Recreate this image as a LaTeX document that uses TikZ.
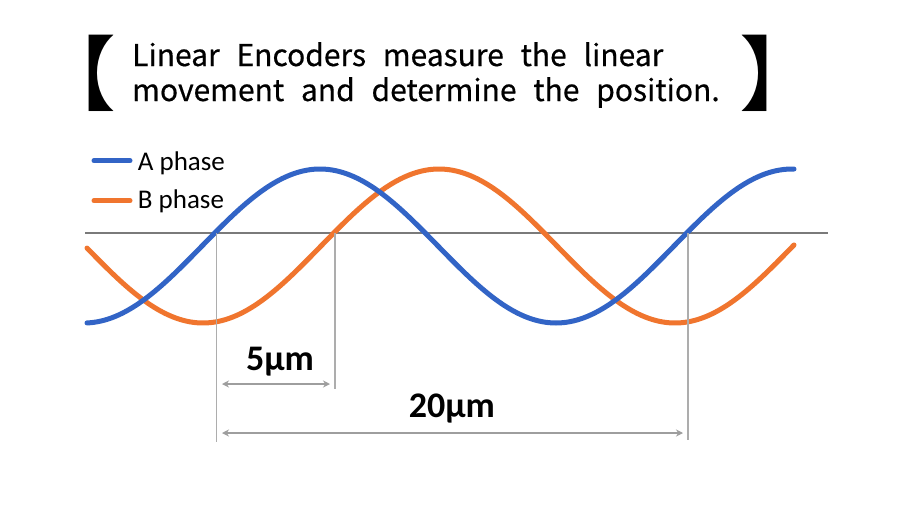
\documentclass[tikz,border=0pt]{standalone}
\usepackage{fontspec}
\setmainfont{Carlito}
\newfontfamily\jpfont{Noto Sans CJK JP}
\newfontfamily\jptitle[WordSpace=2.5, FakeBold=0.5]{Noto Sans CJK JP}
\usetikzlibrary{arrows.meta, positioning}

\definecolor{phaseA}{RGB}{50,100,198}
\definecolor{phaseB}{RGB}{240,117,46}

\begin{document}
\begin{tikzpicture}[x=1pt, y=-1pt,
    wave/.style={line width=5pt, line cap=round},
    dimline/.style={draw=black!32, line width=1.5pt},
    dimarrow/.style={draw=black!38, line width=2pt, {Stealth[length=7pt,width=7pt]}-{Stealth[length=7pt,width=7pt]}},
    bracket/.style={font=\jpfont\fontsize{82}{82}\selectfont, inner sep=0pt},
    titletext/.style={font=\jptitle\fontsize{30}{35}\selectfont, inner sep=0pt, anchor=base west},
    legtext/.style={font=\fontsize{27}{30}\selectfont, inner sep=0pt},
    dimtext/.style={font=\bfseries\fontsize{36}{40}\selectfont, inner sep=0pt}]
    \fill[white] (0,0) rectangle (902,522);
    \useasboundingbox (0,0) rectangle (902,522);

    % title
    \node[bracket] (lbr) at (75.3,73) {【};
    \node[bracket] (rbr) at (780.3,73) {】};
    \node[titletext] (title1) at (132,66) {Linear Encoders measure the linear};
    \node[titletext] (title2) at (132,101) {movement and determine the position.};

    % legend
    \coordinate (legA) at (94,160.7);
    \coordinate (legA') at (130,160.7);
    \coordinate (legB) at (94,200.7);
    \coordinate (legB') at (130,200.7);
    \draw[wave, phaseA] (legA) -- (legA');
    \draw[wave, phaseB] (legB) -- (legB');
    \node[legtext, anchor=base west] (txtA) at (137.7,170) {A phase};
    \node[legtext, anchor=base west] (txtB) at (137.7,208) {B phase};

    % axis
    \coordinate (axl) at (85,233);
    \coordinate (axr) at (828,233);
    \draw[black!52, line width=1.5pt] (axl) -- (axr);

    % waves (period 472px)
    \draw[wave, phaseB] plot[domain=87:794, samples=200] (\x, {246-77*sin(0.76271*(\x-321))});
    \draw[wave, phaseA] plot[domain=87:794, samples=200] (\x, {246-77*sin(0.76271*(\x-202))});

    % zero crossings and dimensions
    \coordinate (zA1) at (216.7,233);
    \coordinate (zB1) at (335,233);
    \coordinate (zA2) at (688,233);
    \draw[dimline] (zA1) -- (zA1 |- 0,442);
    \draw[dimline] (zB1) -- (zB1 |- 0,389);
    \draw[dimline] (zA2) -- (zA2 |- 0,440);

    \coordinate (d5l) at (222,384);
    \coordinate (d5r) at (330,384);
    \coordinate (d20l) at (222,433);
    \coordinate (d20r) at (683,433);
    \draw[dimarrow] (d5l) -- (d5r);
    \draw[dimarrow] (d20l) -- (d20r);
    \node[dimtext, anchor=base] (lbl5) at (280,370) {5µm};
    \node[dimtext, anchor=base] (lbl20) at (452,417) {20µm};
\end{tikzpicture}
\end{document}
